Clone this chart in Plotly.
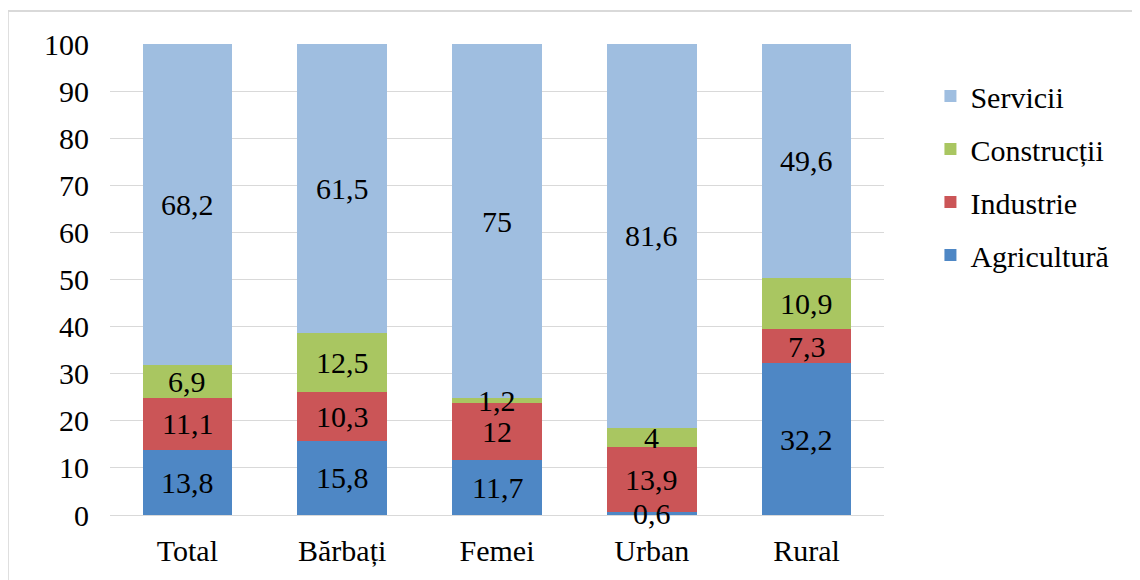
import plotly.graph_objects as go

categories = ["Total", "Bărbați", "Femei", "Urban", "Rural"]
agricultura = [13.8, 15.8, 11.7, 0.6, 32.2]
industrie = [11.1, 10.3, 12, 13.9, 7.3]
constructii = [6.9, 12.5, 1.2, 4, 10.9]
servicii = [68.2, 61.5, 75, 81.6, 49.6]
y_ticks = [0, 10, 20, 30, 40, 50, 60, 70, 80, 90, 100]

series = [
    ("Agricultură", agricultura, "#4E87C5"),
    ("Industrie", industrie, "#CB5557"),
    ("Construcții", constructii, "#A9C661"),
    ("Servicii", servicii, "#9FBEE0"),
]

FONT = "Liberation Serif"
FS = 30

fig = go.Figure()
annotations = []
base = [0.0] * len(categories)
n = len(series)
for i, (name, vals, col) in enumerate(series):
    fig.add_trace(go.Bar(
        x=categories, y=vals, name=name,
        marker=dict(color=col, line=dict(width=0)),
        legendgroup=f"g{i}",
        legendrank=1000 + (n - i) * 10,
    ))
    for j, v in enumerate(vals):
        annotations.append(dict(
            x=categories[j], y=base[j] + v / 2, xref="x", yref="y",
            text=str(v).replace(".", ","), showarrow=False,
            font=dict(family=FONT, size=FS, color="black"),
        ))
        base[j] += v

W, H = 1132, 572
fig.update_layout(
    barmode="stack",
    bargap=0.42,
    width=W, height=H,
    margin=dict(l=102, r=256, t=36, b=65),
    plot_bgcolor="white", paper_bgcolor="white",
    font=dict(family=FONT, size=FS, color="black"),
    legend=dict(
        x=1.06, xanchor="left", y=0.945, yanchor="top",
        traceorder="grouped", tracegroupgap=11,
        font=dict(family=FONT, size=FS, color="black"),
        itemwidth=30,
    ),
    xaxis=dict(
        showgrid=False, showline=True, linecolor="#D9D9D9", linewidth=1,
        ticks="", ticklabelstandoff=9,
        tickfont=dict(family=FONT, size=FS, color="black"),
    ),
    yaxis=dict(
        range=[0, 100], tickvals=y_ticks, showgrid=True, gridcolor="#D9D9D9",
        gridwidth=1, zeroline=False, showline=False, ticks="",
        ticklabelstandoff=20,
        tickfont=dict(family=FONT, size=FS, color="black"),
    ),
    annotations=annotations,
    shapes=[dict(
        type="rect", xref="paper", yref="paper",
        x0=-0.132, x1=1.326, y0=-0.16, y1=1.07,
        line=dict(color="#D9D9D9", width=2), fillcolor="rgba(0,0,0,0)",
        layer="below",
    )],
)

fig.write_html("out.html")
